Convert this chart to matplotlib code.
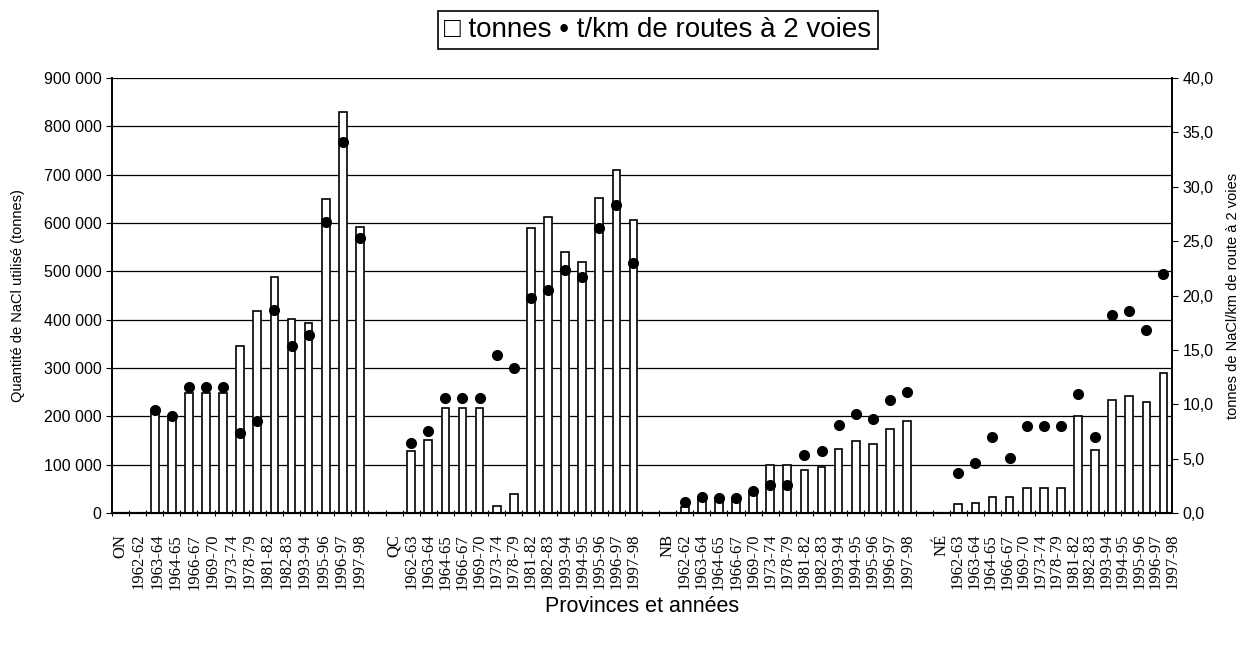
# %%
import matplotlib.pyplot as plt
import numpy as np
from matplotlib.ticker import FuncFormatter, MultipleLocator

plt.rcParams["font.family"] = ["Liberation Sans", "DejaVu Sans"]

# %% values
provinces = ["ON", "QC", "NB", "NÉ"]

years_on = ["1962-62", "1963-64", "1964-65", "1966-67", "1969-70", "1973-74", "1978-79",
            "1981-82", "1982-83", "1993-94", "1995-96", "1996-97", "1997-98"]
years_qc = ["1962-63", "1963-64", "1964-65", "1966-67", "1969-70", "1973-74", "1978-79",
            "1981-82", "1982-83", "1993-94", "1994-95", "1995-96", "1996-97", "1997-98"]
years_nb = ["1962-62", "1963-64", "1964-65", "1966-67", "1969-70", "1973-74", "1978-79",
            "1981-82", "1982-83", "1993-94", "1994-95", "1995-96", "1996-97", "1997-98"]
years_ne = ["1962-63", "1963-64", "1964-65", "1966-67", "1969-70", "1973-74", "1978-79",
            "1981-82", "1982-83", "1993-94", "1994-95", "1995-96", "1996-97", "1997-98"]

# tonnes of NaCl
tonnes_on = [207000, 196000, 249000, 249000, 249000, 346000, 417000,
             488000, 402000, 393000, 649000, 829000, 592000]
tonnes_qc = [129000, 152000, 218000, 218000, 218000, 15000, 39000,
             589000, 612000, 540000, 520000, 652000, 710000, 607000]
tonnes_nb = [12000, 28000, 27000, 27000, 41000, 100000, 100000,
             90000, 95000, 133000, 149000, 143000, 174000, 190000]
tonnes_ne = [18000, 21000, 34000, 34000, 52000, 52000, 52000,
             200000, 130000, 233000, 242000, 229000, 290000]

# t/km of 2-lane road
t_km_on = [9.5, 8.9, 11.6, 11.6, 11.6, 7.4, 8.5, 18.7, 15.4, 16.4, 26.8, 34.1, 25.3]
t_km_qc = [6.4, 7.5, 10.6, 10.6, 10.6, 14.5, 13.3, 19.8, 20.5, 22.3, 21.7, 26.2, 28.3, 23.0]
t_km_nb = [1.0, 1.5, 1.35, 1.35, 2.0, 2.6, 2.6, 5.3, 5.7, 8.1, 9.1, 8.6, 10.4, 11.1]
t_km_ne = [3.7, 4.6, 7.0, 5.1, 8.0, 8.0, 8.0, 10.9, 7.0, 18.2, 18.6, 16.8, 22.0]

years = [years_on, years_qc, years_nb, years_ne]
tonnes = [tonnes_on, tonnes_qc, tonnes_nb, tonnes_ne]
t_km = [t_km_on, t_km_qc, t_km_nb, t_km_ne]

# %% layout: 62 category slots, each province block starts every 16 slots
first_bar = [2, 17, 33, 49]
label_span = [(0, 14), (16, 30), (32, 46), (48, 61.5)]

fig = plt.figure(figsize=(12.44, 6.45), dpi=100)
ax = fig.add_axes([112 / 1244, 1 - 513 / 645, 1060 / 1244, 435 / 645])
ax2 = ax.twinx()

tick_pos, tick_lab = [], []
for prov, yrs, tn, tk, start, span in zip(provinces, years, tonnes, t_km, first_bar, label_span):
    x = start + np.arange(len(tn))
    ax.bar(x, tn, width=0.45, color="white", edgecolor="black", linewidth=1.2, zorder=3)
    ax2.plot(x, tk, "o", color="black", ms=7, zorder=4)
    tick_pos += list(np.linspace(span[0], span[1], len(yrs) + 1))
    tick_lab += [prov] + yrs

ax.set_xlim(-0.5, 61.5)
ax.set_ylim(0, 900000)
ax2.set_ylim(0, 40)

ax.yaxis.set_major_locator(MultipleLocator(100000))
ax.yaxis.set_major_formatter(FuncFormatter(lambda v, p: f"{int(v):,}".replace(",", " ")))
ax2.yaxis.set_major_locator(MultipleLocator(5))
ax2.yaxis.set_major_formatter(FuncFormatter(lambda v, p: f"{v:.1f}".replace(".", ",")))
ax.grid(axis="y", color="black", linewidth=0.9, zorder=0)
ax.set_axisbelow(True)

ax.set_xticks(tick_pos)
ax.set_xticklabels(tick_lab, rotation=90, family="Liberation Serif", fontsize=12)
ax.set_xticks(np.arange(-0.5, 62, 1), minor=True)
ax.tick_params(axis="x", which="major", length=0, pad=15)
ax.tick_params(axis="x", which="minor", direction="inout", length=5, width=0.8)
ax.tick_params(axis="y", labelsize=11.5, length=4, width=0.8)
ax2.tick_params(axis="y", labelsize=11.5, length=4, width=0.8)

for a in (ax, ax2):
    a.spines["top"].set_visible(False)
    a.spines["left"].set_linewidth(1.2)
    a.spines["right"].set_linewidth(1.2)
    a.spines["bottom"].set_linewidth(1.5)

ax.set_ylabel("Quantité de NaCl utilisé (tonnes)", fontsize=10.5)
ax.yaxis.set_label_coords(-0.082, 0.5)
ax2.set_ylabel("tonnes de NaCl/km de route à 2 voies", fontsize=10.5)
ax2.yaxis.set_label_coords(1.051, 0.5)

fig.text(642 / 1244, 1 - 606 / 645, "Provinces et années", ha="center", va="center", fontsize=15.5)
fig.text(658 / 1244, 1 - 30 / 645, "\u25a1 tonnes \u2022 t/km de routes à 2 voies",
         ha="center", va="center", fontsize=20,
         bbox=dict(boxstyle="square,pad=0.22", facecolor="white", edgecolor="black", linewidth=1.2))

fig.savefig("out.png", dpi=100)
